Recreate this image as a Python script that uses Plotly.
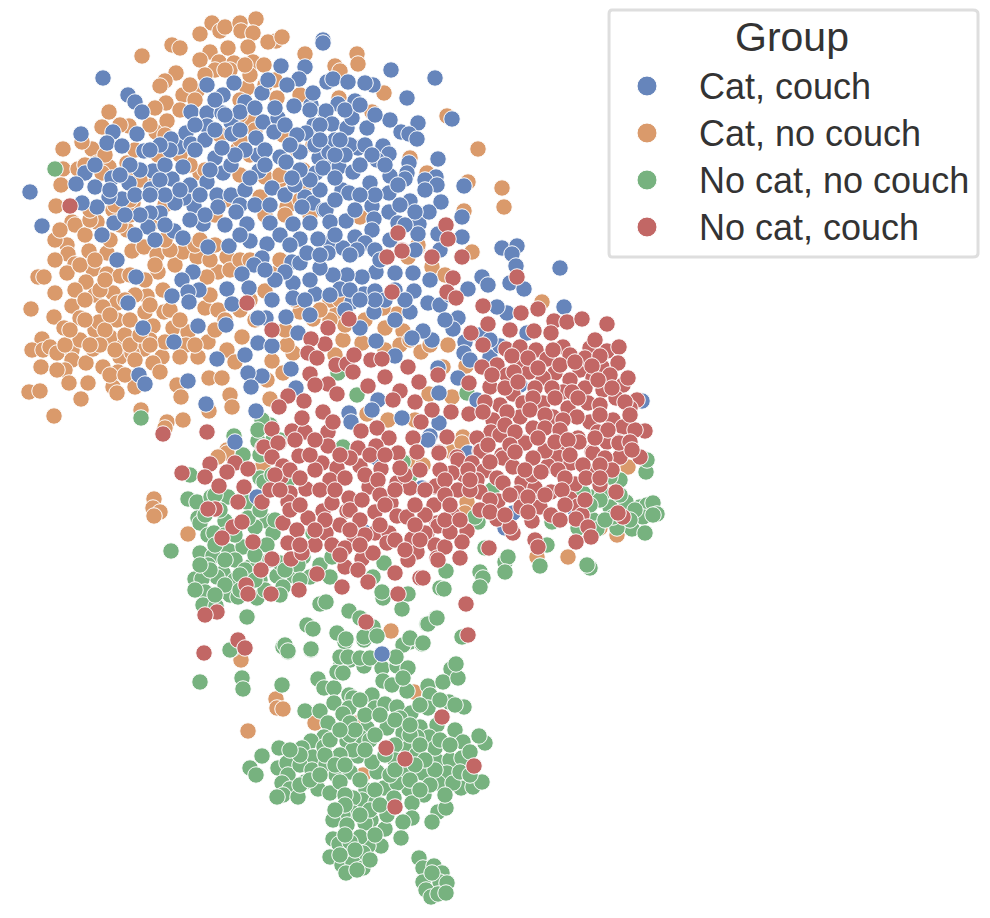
"""Scatter of an embedding, four groups, no axes. Values read off the picture."""
import plotly.graph_objects as go

GROUPS = ["Cat, couch", "Cat, no couch", "No cat, no couch", "No cat, couch"]
COLORS = ["#6685BB", "#DA9A6B", "#77B27F", "#C26765"]

CAT_COUCH = [
    (103,78),(128,95),(135,102),(142,112),(81,134),(113,132),(137,134),(107,143),(122,146),(144,151),
    (30,192),(85,173),(76,184),(95,187),(112,178),(129,183),(153,171),(151,189),(172,179),(183,167),
    (179,147),(186,133),(171,139),(191,144),(191,112),(207,85),(223,95),(234,83),(245,102),(262,93),
    (268,80),(281,66),(305,67),(299,79),(323,40),(323,43),(287,85),(294,106),(311,105),(313,93),
    (325,112),(314,125),(306,133),(327,82),(207,113),(222,113),(207,126),(231,122),(232,134),(256,138),
    (263,122),(278,118),(274,132),(258,155),(280,157),(286,162),(259,171),(272,188),(215,158),(223,173),
    (231,165),(207,182),(217,195),(231,195),(245,190),(218,207),(194,206),(184,198),(175,203),(160,213),
    (150,213),(122,199),(109,197),(97,207),(82,203),(42,226),(305,197),(313,203),(302,207),(324,210),
    (325,165),(319,158),(316,173),(333,79),(348,82),(373,85),(365,83),(391,70),(435,78),(407,98),
    (355,101),(338,104),(326,111),(332,124),(347,128),(367,128),(352,118),(390,120),(418,123),(401,132),
    (409,134),(417,139),(452,119),(358,148),(383,146),(389,154),(377,160),(329,152),(339,167),(353,172),
    (323,168),(409,163),(407,173),(405,179),(390,176),(438,159),(436,177),(425,180),(437,185),(464,186),
    (370,183),(342,190),(349,193),(389,193),(410,201),(441,202),(372,206),(326,210),(389,212),(374,219),
    (346,221),(330,222),(462,217),(419,224),(429,212),(415,212),(372,230),(355,237),(365,243),(418,234),
    (462,237),(438,234),(502,248),(517,246),(330,243),(343,248),(357,250),(398,223),(512,254),(516,266),
    (560,268),(510,283),(524,289),(482,277),(488,285),(468,289),(564,307),(507,313),(497,307),(395,273),
    (413,273),(376,272),(362,277),(347,275),(333,275),(340,289),(352,302),(364,294),(375,291),(430,280),
    (414,291),(428,303),(410,312),(374,312),(360,328),(376,341),(458,318),(453,329),(432,340),(423,331),
    (412,338),(465,342),(464,353),(395,356),(438,368),(458,378),(439,393),(378,400),(372,410),(349,413),
    (351,422),(402,418),(439,423),(430,436),(490,357),(500,346),(527,333),(642,401),(477,400),(520,385),
    (102,235),(114,223),(148,227),(174,231),(183,238),(203,224),(208,247),(229,246),(247,224),(250,241),
    (267,244),(262,258),(254,265),(270,223),(293,224),(310,223),(300,239),(318,239),(292,262),(300,263),
    (320,268),(307,253),(328,253),(117,260),(136,277),(242,274),(193,272),(182,280),(199,290),(188,292),
    (172,296),(189,302),(227,289),(249,288),(232,304),(128,303),(293,283),(293,298),(315,294),(266,318),
    (258,318),(286,317),(198,326),(226,325),(143,328),(298,333),(258,343),(272,346),(245,355),(217,359),
    (174,342),(139,375),(145,384),(188,381),(206,404),(262,376),(248,373),(251,387),(291,369),(256,411),
    (296,388),(382,654),(377,458),(235,442),(428,440),(364,532),(257,497),(513,513),(505,528),(468,453),
    (422,488),(575,510),
    (215,100),(240,112),(255,108),(275,108),(285,125),(297,135),(320,125),(335,140),(350,145),(365,145),
    (372,155),(345,155),(335,155),(315,145),(300,152),(290,145),(265,150),(245,150),(235,155),(222,148),
    (205,140),(195,150),(165,165),(160,180),(140,170),(130,165),(120,175),(110,190),(135,195),(165,195),
    (190,185),(200,195),(210,170),(240,205),(255,205),(270,205),(285,195),(295,185),(335,178),(360,165),
    (385,165),(398,185),(375,195),(360,195),(355,210),(335,200),(320,190),(310,180),(300,170),(292,178),
    (265,165),(250,178),(236,212),(205,215),(190,220),(165,225),(140,215),(125,215),(135,235),(155,240),
    (225,225),(240,235),(280,235),(290,245),(335,235),(350,255),(375,250),(390,240),(405,225),(415,250),
    (440,250),(400,205),(425,190),(380,260),(395,290),(385,300),(405,300),(375,300),(350,290),(330,295),
    (320,255),(310,280),(285,272),(275,280),(265,270),(272,300),(305,300),(310,315),(345,310),(360,300),
    (395,320),(440,305),(450,295),(445,320),(480,335),(470,360),(490,340),(225,115),(240,130),(345,110),
    (360,105),(375,115),(340,140),(320,140),(310,110),(215,130),(195,125),(170,150),(160,145),(180,190),
    (150,195),(95,165),(150,150),
]

CAT_NO_COUCH = [
    (142,56),(172,45),(180,48),(212,23),(200,34),(220,31),(225,27),(240,23),(256,19),(241,31),
    (253,33),(276,41),(268,42),(282,37),(210,52),(228,48),(248,47),(200,60),(219,62),(234,63),
    (253,62),(305,54),(264,65),(176,73),(165,81),(160,86),(183,95),(197,91),(166,103),(155,108),
    (109,112),(102,127),(129,126),(156,132),(167,121),(120,125),(63,149),(92,149),(82,142),(63,169),
    (78,169),(61,185),(56,206),(97,163),(109,167),(127,163),(102,173),(247,88),(240,100),(277,98),
    (252,122),(220,135),(238,149),(283,135),(297,150),(313,145),(303,170),(265,177),(308,183),(200,173),
    (158,155),(135,173),(287,207),(113,210),(133,203),(72,222),(97,222),(195,193),(155,183),(240,175),
    (280,180),(260,197),(357,54),(358,64),(335,66),(340,71),(384,93),(339,98),(372,112),(447,116),
    (478,149),(410,158),(427,173),(468,182),(502,188),(504,207),(464,211),(360,217),(418,247),(472,252),
    (75,225),(67,245),(68,254),(75,264),(67,273),(38,277),(44,277),(89,251),(107,253),(132,251),
    (144,247),(157,255),(127,230),(93,269),(107,274),(120,276),(86,282),(158,272),(175,265),(183,252),
    (218,272),(207,277),(197,257),(227,257),(55,293),(95,295),(113,293),(147,296),(163,290),(72,306),
    (117,303),(31,309),(54,317),(80,318),(103,307),(64,328),(95,330),(117,320),(145,312),(164,312),
    (153,326),(173,328),(205,308),(218,310),(188,332),(242,337),(265,291),(274,274),(300,312),(313,319),
    (42,339),(32,350),(43,350),(50,347),(57,353),(41,367),(72,350),(72,360),(65,370),(69,383),
    (57,370),(86,363),(88,383),(93,349),(103,367),(122,340),(120,357),(118,372),(144,349),(162,357),
    (153,363),(160,372),(132,353),(113,387),(117,393),(135,387),(29,392),(40,391),(81,399),(54,416),
    (186,345),(208,342),(227,350),(180,357),(198,357),(235,362),(272,361),(293,353),(287,345),(177,385),
    (209,378),(222,378),(181,397),(230,395),(232,407),(141,410),(167,422),(165,428),(183,420),(209,411),
    (267,380),(270,399),(283,373),(99,322),(110,337),(227,450),(337,312),(343,340),(362,343),(385,328),
    (397,314),(403,331),(383,308),(421,352),(448,345),(466,366),(443,367),(452,397),(429,394),(367,414),
    (388,420),(415,420),(542,302),(432,267),(418,245),(408,257),(445,275),(463,437),(227,453),(218,457),
    (263,465),(154,499),(153,508),(160,512),(154,516),(188,534),(377,483),(422,465),(410,463),(391,631),
    (452,452),(462,443),(423,465),(447,495),(467,502),(465,513),(628,467),(617,535),(600,528),(537,557),
    (568,557),(241,660),(276,699),(277,708),(283,709),(248,731),(315,723),(414,692),(357,723),(363,775),
    (55,260),(55,240),(60,230),(85,235),(90,220),(110,240),(120,225),(130,215),(80,265),(75,290),
    (85,300),(100,290),(85,320),(105,330),(125,335),(130,320),(100,345),(80,340),(65,345),(115,350),
    (130,345),(150,340),(165,342),(140,335),(150,305),(135,295),(110,315),(130,275),(145,280),(155,265),
    (170,250),(150,225),(165,240),(195,245),(210,260),(230,270),(250,300),(240,310),(210,295),(225,320),
    (195,345),(215,330),(170,310),(125,300),(105,280),(95,260),(70,330),(90,345),(110,375),(125,375),
    (180,320),(135,360),(150,345),(190,200),(165,205),(200,240),(215,245),(240,260),(250,260),(280,260),
    (265,215),(285,215),(280,175),(250,155),(255,130),(240,115),(205,170),(190,165),(225,200),(215,215),
    (140,180),(130,200),(115,205),(90,210),(180,110),(190,85),(215,70),(205,75),(250,75),(230,70),
    (245,65),(225,70),(265,85),(275,80),(300,95),(240,140),(195,100),(180,155),(165,135),(150,125),
    (135,150),(105,155),(85,165),(300,200),(310,215),(330,300),(340,300),(345,325),(365,320),(385,350),
    (400,345),(410,340),(430,345),(255,320),(285,330),(330,320),(335,355),(295,300),(320,310),
]

NO_CAT_NO_COUCH = [
    (200,682),(232,649),(242,678),(243,689),(282,685),(288,652),(283,647),(311,650),(305,711),(320,711),
    (318,679),(324,688),(334,688),(341,664),(337,672),(350,660),(343,673),(364,666),(382,668),(397,666),
    (408,668),(383,681),(392,685),(407,691),(403,678),(396,657),(410,642),(422,644),(403,645),(364,640),
    (345,642),(428,686),(430,695),(451,669),(443,682),(458,678),(456,664),(449,702),(464,707),(428,708),
    (349,695),(353,698),(372,695),(334,703),(349,708),(343,714),(350,723),(328,723),(375,708),(385,704),
    (397,707),(411,713),(400,718),(367,728),(387,728),(360,737),(403,733),(420,727),(437,725),(455,730),
    (429,737),(417,737),(463,742),(485,743),(479,736),(324,737),(311,741),(302,748),(279,748),(262,756),
    (313,757),(324,747),(347,741),(358,756),(353,750),(278,768),(250,768),(256,775),(287,763),(288,775),
    (300,765),(312,770),(326,764),(336,775),(350,772),(377,772),(372,762),(408,748),(417,754),(437,761),
    (450,760),(462,758),(405,772),(423,773),(447,773),(435,748),(282,783),(290,789),(283,795),(277,797),
    (298,797),(318,789),(330,793),(305,782),(340,782),(366,790),(384,788),(409,789),(424,795),(438,783),
    (397,783),(461,788),(473,787),(482,782),(453,783),(362,800),(353,798),(376,802),(412,803),(394,798),
    (438,812),(446,808),(432,822),(412,818),(403,822),(353,813),(343,815),(333,820),(371,820),(365,823),
    (347,825),(385,829),(387,815),(401,838),(381,846),(368,846),(360,837),(333,839),(339,844),(350,842),
    (330,857),(342,865),(363,853),(353,863),(363,868),(346,873),(357,870),(419,858),(423,868),(434,866),
    (442,873),(440,882),(447,883),(423,882),(426,890),(431,897),(438,894),(446,893),(432,873),
    (243,455),(190,475),(260,478),(264,482),(272,475),(287,482),(188,499),(197,502),(211,497),(247,502),
    (228,497),(267,521),(255,527),(198,518),(200,523),(225,521),(248,518),(273,533),(171,551),(208,535),
    (214,533),(200,553),(213,556),(229,551),(243,547),(267,545),(208,565),(223,573),(217,577),(195,579),
    (202,579),(235,580),(250,567),(257,567),(277,576),(260,580),(294,576),(283,587),(310,577),(320,565),
    (330,577),(205,592),(230,595),(238,597),(257,598),(203,605),(216,606),(280,595),(247,617),(320,604),
    (326,602),(349,611),(307,625),(313,629),(337,633),(346,639),(360,618),(373,627),(364,637),(377,636),
    (402,609),(408,594),(383,598),(382,592),(373,577),(384,563),(410,476),(403,462),(343,447),(285,645),
    (288,651),(311,649),(230,650),(403,645),(410,638),(423,643),(427,624),(436,618),(396,657),(303,557),
    (313,533),(332,557),(280,563),(298,565),(440,588),(340,657),(348,657),(360,658),(370,658),
    (446,571),(444,589),(480,572),(483,578),(480,587),(505,562),(508,557),(505,572),(540,566),(547,545),
    (590,568),(587,565),(485,548),(478,522),(475,517),(552,522),(428,624),(437,618),(462,637),(646,472),
    (647,460),(640,507),(647,505),(653,503),(657,514),(643,517),(653,515),(632,529),(645,533),(617,528),
    (610,507),(626,502),(613,517),(593,497),(583,493),(593,520),(597,529),(578,528),(620,480),(610,477),
    (623,446),(603,493),(492,490),(357,395),(338,373),(467,393),(343,447),(622,447),(141,418),(234,436),
    (258,441),(260,455),(273,440),(280,440),(55,169),
    (350,735),(370,740),(395,745),(410,735),(420,745),(440,740),(450,745),(470,752),(460,772),(470,775),
    (435,770),(425,760),(395,760),(385,755),(365,750),(340,755),(325,755),(300,755),(290,750),(300,785),
    (310,780),(320,775),(345,795),(360,780),(375,790),(390,775),(395,770),(415,765),(430,785),(445,795),
    (410,780),(420,790),(370,810),(380,805),(360,815),(345,805),(335,810),(375,835),(345,835),(355,850),
    (370,860),(340,855),(355,730),(375,735),(395,720),(410,725),(330,740),(340,730),(365,715),(335,765),
    (345,765),(360,700),(380,715),(440,700),(455,705),(420,705),(215,545),(225,535),(235,560),(245,570),
    (210,570),(225,585),(240,575),(255,555),(270,560),(285,570),(300,580),(235,535),(195,590),(215,595),
    (265,590),(255,580),(275,520),(260,510),(220,510),(215,495),(205,515),(225,560),(200,565),(240,590),
    (600,500),(620,495),(635,510),(605,520),(630,520),(590,505),(270,425),(262,420),(258,430),
]

NO_CAT_COUCH = [
    (70,206),(398,233),(446,225),(448,239),(402,250),(387,257),(402,251),(432,257),(462,257),(453,278),
    (392,292),(447,292),(456,298),(517,277),(483,306),(521,313),(538,309),(488,324),(510,330),(471,333),
    (483,345),(349,319),(328,328),(325,344),(554,321),(567,322),(582,319),(607,324),(534,331),(551,333),
    (506,349),(520,347),(536,350),(563,347),(590,348),(595,340),(607,351),(619,347),(547,359),(522,363),
    (497,365),(482,367),(580,370),(602,367),(618,363),(555,373),(543,378),(490,387),(507,375),(529,372),
    (570,380),(593,378),(623,385),(585,388),(563,392),(513,394),(543,403),(500,405),(523,403),(603,390),
    (616,398),(637,400),(568,408),(588,403),(493,420),(520,417),(533,428),(553,417),(590,422),(577,417),
    (613,420),(623,427),(645,431),(635,430),(491,432),(477,438),(500,435),(524,442),(545,450),(578,438),
    (565,447),(607,442),(619,442),(592,452),(640,457),(480,451),(502,455),(558,457),(620,457),(385,377),
    (408,367),(419,382),(438,375),(469,383),(368,386),(400,391),(393,400),(415,402),(432,410),(451,412),
    (469,414),(421,422),(377,428),(389,438),(361,431),(358,448),(376,446),(413,438),(447,437),(328,384),
    (337,394),(336,365),(347,364),(354,355),(353,372),(371,360),(382,359),(328,432),(328,446),(323,412),
    (333,422),(398,453),(417,452),(439,452),(457,457),(247,303),(272,330),(311,339),(308,353),(317,358),
    (310,374),(315,385),(288,396),(304,401),(279,407),(272,429),(292,431),(305,432),(279,443),(263,447),
    (302,418),(163,434),(207,432),(182,473),(210,464),(235,463),(205,477),(248,469),(227,472),(219,486),
    (244,487),(264,447),(278,443),(272,457),(283,466),(281,477),(299,456),(322,463),(337,468),(358,448),
    (360,466),(381,469),(397,483),(369,487),(410,488),(435,487),(306,489),(290,493),(288,502),(262,502),
    (238,502),(215,509),(208,509),(323,511),(308,518),(332,503),(347,511),(349,498),(391,503),(375,512),
    (397,516),(407,517),(434,505),(437,523),(283,523),(233,527),(242,522),(297,530),(222,538),(253,542),
    (288,543),(315,545),(326,533),(354,536),(332,545),(375,533),(389,533),(412,539),(427,533),(435,545),
    (387,543),(272,559),(291,559),(302,553),(261,570),(362,559),(345,567),(358,570),(373,553),(417,552),
    (408,560),(437,558),(317,574),(368,582),(395,573),(420,578),(342,587),(246,585),(248,594),(271,594),
    (299,590),(398,594),(217,612),(205,615),(366,622),(238,640),(245,648),(204,653),(439,453),(481,451),
    (458,460),(472,463),(484,471),(503,458),(513,467),(497,478),(477,480),(464,475),(452,473),(436,486),
    (458,490),(480,492),(503,483),(522,482),(518,493),(498,501),(535,488),(551,492),(548,466),(532,475),
    (571,463),(593,453),(545,451),(525,443),(579,442),(619,443),(605,458),(594,473),(612,470),(575,484),
    (600,485),(616,492),(570,499),(578,506),(582,515),(576,519),(588,527),(591,537),(576,542),(623,517),
    (618,513),(533,502),(521,507),(540,507),(551,515),(532,521),(497,519),(513,533),(510,527),(535,540),
    (538,547),(489,548),(467,531),(453,515),(438,526),(425,533),(445,547),(462,542),(438,560),(460,558),
    (423,578),(466,604),(468,635),(450,532),(442,717),(386,748),(405,759),(474,766),(395,807),
    (512,356),(528,358),(553,350),(570,355),(585,358),(600,356),(492,375),(514,372),(538,368),(560,365),
    (575,362),(592,366),(610,375),(628,378),(505,388),(518,382),(535,388),(552,388),(572,392),(598,380),
    (612,388),(630,408),(485,402),(533,398),(555,398),(578,398),(600,405),(625,402),(483,412),(507,412),
    (530,410),(545,415),(563,420),(600,415),(630,415),(505,425),(515,432),(545,428),(560,430),(598,432),
    (608,430),(488,445),(510,445),(538,438),(555,442),(568,440),(595,438),(630,442),(490,462),(515,452),
    (533,458),(570,455),(583,465),(600,465),(632,450),(468,470),(525,470),(541,472),(558,470),(586,478),
    (600,478),(565,478),(440,470),(445,480),(470,490),(490,500),(510,495),(528,497),(545,495),(562,490),
    (585,500),(565,505),(480,510),(490,512),(505,515),(528,512),(560,520),(290,470),(300,478),(315,470),
    (330,480),(345,478),(350,458),(365,475),(378,480),(290,510),(300,505),(320,490),(335,490),(350,510),
    (362,500),(380,495),(405,475),(420,470),(425,490),(445,495),(445,520),(425,515),(415,525),(360,520),
    (365,535),(340,525),(325,520),(315,530),(300,545),(345,548),(360,545),(380,525),(395,540),(405,550),
    (420,540),(450,505),(460,520),(470,480),(340,555),(350,530),(395,490),(385,505),(415,505),(340,455),
    (310,455),(370,455),(385,455),(400,468),(275,475),(270,490),(280,490),(295,440),(315,440),
]

SERIES = [CAT_COUCH, CAT_NO_COUCH, NO_CAT_NO_COUCH, NO_CAT_COUCH]
DRAW_ORDER = [1, 2, 0, 3]  # legend order differs, the reds sit on top

fig = go.Figure()
for i in DRAW_ORDER:
    pts = SERIES[i]
    fig.add_trace(go.Scatter(
        x=[p[0] for p in pts],
        y=[p[1] for p in pts],
        mode="markers",
        name=GROUPS[i],
        showlegend=False,
        marker=dict(size=16.5, color=COLORS[i], line=dict(color="white", width=1)),
    ))

# plotly caps legend markers at 16px and ties the row height to the font,
# so the legend is laid out by hand to get the 19px keys and tight rows
LEGEND_KEY_X = 647
LEGEND_TEXT_X = 698
LEGEND_ROW_Y = [86, 133, 180, 227]
fig.add_trace(go.Scatter(
    x=[LEGEND_KEY_X] * 4,
    y=LEGEND_ROW_Y,
    mode="markers",
    showlegend=False,
    hoverinfo="skip",
    marker=dict(size=20, color=COLORS, line=dict(color="white", width=1)),
))
annotations = [dict(
    x=792, y=37, xref="x", yref="y", text="Group", showarrow=False,
    xanchor="center", yanchor="middle", font=dict(size=41),
)]
for name, row_y in zip(GROUPS, LEGEND_ROW_Y):
    annotations.append(dict(
        x=LEGEND_TEXT_X, y=row_y, xref="x", yref="y", text=name, showarrow=False,
        xanchor="left", yanchor="middle", xshift=-1, font=dict(size=36),
    ))

fig.update_layout(
    width=990, height=918,
    margin=dict(l=0, r=0, t=0, b=0, autoexpand=False),
    paper_bgcolor="white", plot_bgcolor="white",
    font=dict(family="Liberation Sans, Arial, sans-serif", color="#333333"),
    xaxis=dict(visible=False, range=[0, 990]),
    yaxis=dict(visible=False, range=[918, 0]),
    annotations=annotations,
    shapes=[dict(
        type="path", xref="paper", yref="paper", layer="below",
        path="M 0.6182 0.9891 L 0.9828 0.9891 Q 0.9879 0.9891 0.9879 0.9847 "
             "L 0.9879 0.7244 Q 0.9879 0.7200 0.9828 0.7200 L 0.6182 0.7200 "
             "Q 0.6152 0.7200 0.6152 0.7244 L 0.6152 0.9847 Q 0.6152 0.9891 0.6182 0.9891 Z",
        line=dict(color="#DEDEDE", width=3), fillcolor="white",
    )],
)

fig.write_html("out.html", config={"displayModeBar": False},
               post_script="document.body.style.margin = '0';")
